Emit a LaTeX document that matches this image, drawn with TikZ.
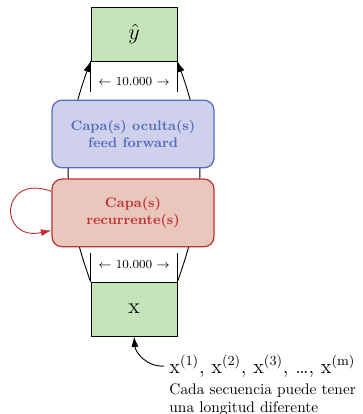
\documentclass[tikz,border=0pt]{standalone}
\usetikzlibrary{arrows.meta}
\usetikzlibrary{positioning}

\definecolor{verdecaja}{RGB}{198,228,185}
\definecolor{azulborde}{RGB}{84,108,190}
\definecolor{azulfondo}{RGB}{206,208,236}
\definecolor{rojoborde}{RGB}{192,48,52}
\definecolor{rojofondo}{RGB}{233,199,188}

\begin{document}
\begin{tikzpicture}[x=0.65pt, y=-0.65pt,
    datos/.style={rectangle, draw=black, semithick, fill=verdecaja, minimum width=55.9pt, minimum height=35.1pt, font=\Large},
    capa/.style={rectangle, rounded corners=6.5pt, thick, minimum width=105.3pt, minimum height=44pt, align=center, font=\small\bfseries},
    flecha/.style={semithick, -{Latex[length=2.4mm, width=1.6mm]}},
    medida/.style={font=\footnotesize}]

  \useasboundingbox (0,0) rectangle (362,414);

  \node[datos] (yhat) at (134,34) {$\hat{y}$};
  \node[datos] (x) at (134,309) {x};

  % conexiones que pasan por detras de las capas
  \draw[flecha] (x.north west) to[bend left=20] (yhat.south west);
  \draw[flecha] (x.north east) to[bend right=20] (yhat.south east);

  \node[capa, draw=azulborde, fill=azulfondo, text=azulborde] (ff) at (133,134) {Capa(s) oculta(s)\\feed forward};
  \node[capa, draw=rojoborde, fill=rojofondo, text=rojoborde, below=6.5pt of ff] (rnn) {Capa(s)\\recurrente(s)};

  % ancho de las capas
  \draw[semithick] (yhat.south west) -- ++(0,31);
  \draw[semithick] (yhat.south east) -- ++(0,31);
  \node[medida, below=7pt of yhat] (ancho1) {$\leftarrow$ 10.000 $\rightarrow$};
  \draw[semithick] (x.north west) -- ++(0,-29);
  \draw[semithick] (x.north east) -- ++(0,-29);
  \node[medida, above=5pt of x] (ancho2) {$\leftarrow$ 10.000 $\rightarrow$};

  \draw[flecha, rojoborde] ([yshift=14pt]rnn.west) to[out=160, in=192, looseness=3.6] ([yshift=-11.4pt]rnn.west);

  \node[anchor=west, font=\fontsize{13.4}{16}\selectfont] (seq) at (164,366) {x$^{(1)}$, x$^{(2)}$, x$^{(3)}$, \dots, x$^{(\mathrm{m})}$};
  \node[below right=-3pt and 0pt of seq.south west, align=left] (nota) {Cada secuencia puede tener\\una longitud diferente};
  \draw[flecha] (seq.west) to[out=185, in=-85] (x.south);
\end{tikzpicture}
\end{document}
